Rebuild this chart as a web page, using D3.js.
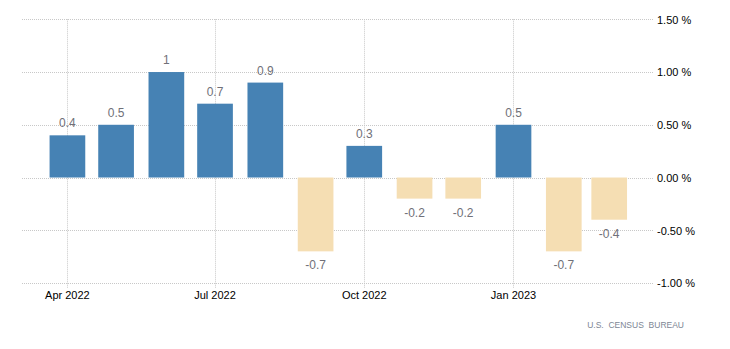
<!DOCTYPE html>
<html>
<head>
<meta charset="utf-8">
<script src="https://cdn.jsdelivr.net/npm/d3@7"></script>
<style>
  html, body { margin: 0; padding: 0; background: #fff; }
  svg { display: block; font-family: "Liberation Sans", Arial, sans-serif; }
</style>
</head>
<body>
<svg id="chart" width="730" height="349"></svg>
<script>
// Monthly change, %
const months = ["2022-04", "2022-05", "2022-06", "2022-07", "2022-08", "2022-09",
                "2022-10", "2022-11", "2022-12", "2023-01", "2023-02", "2023-03"];
const values = [0.4, 0.5, 1, 0.7, 0.9, -0.7, 0.3, -0.2, -0.2, 0.5, -0.7, -0.4];
const yTicks = [1.5, 1.0, 0.5, 0, -0.5, -1.0];
const xTickMonths = ["2022-04", "2022-07", "2022-10", "2023-01"];
const source = "U.S.  CENSUS  BUREAU";

const parseMonth = d3.timeParse("%Y-%m");
const data = months.map((m, i) => ({ date: parseMonth(m), value: values[i] }));

// plain hyphen for negatives, like the original
const fmtTick = d3.formatLocale({ decimal: ".", thousands: ",", grouping: [3], currency: ["", ""], minus: "-" }).format(".2f");

const svg = d3.select("#chart");
const plot = { left: 22, right: 653, top: 19.3, bottom: 283 };

const x = d3.scaleTime()
  .domain([d3.timeDay.offset(data[0].date, -28), d3.timeDay.offset(data[data.length - 1].date, 27)])
  .range([plot.left, plot.right]);

const y = d3.scaleLinear()
  .domain([-1, 1.5])
  .range([plot.bottom, plot.top]);

const gridColor = "#c8c8c8";

// horizontal grid
svg.append("g")
  .selectAll("line")
  .data(yTicks)
  .join("line")
    .attr("x1", plot.left)
    .attr("x2", plot.right + 1)
    .attr("y1", d => Math.round(y(d)) + 0.5)
    .attr("y2", d => Math.round(y(d)) + 0.5)
    .attr("stroke", gridColor)
    .attr("stroke-dasharray", "1 1");

// vertical grid
const xTicks = xTickMonths.map(parseMonth);
svg.append("g")
  .selectAll("line")
  .data(xTicks)
  .join("line")
    .attr("x1", d => Math.round(x(d)) + 0.5)
    .attr("x2", d => Math.round(x(d)) + 0.5)
    .attr("y1", plot.top)
    .attr("y2", plot.bottom + 5)
    .attr("stroke", gridColor)
    .attr("stroke-dasharray", "1 1");

// bars
const halfWidth = d => (x(d3.timeDay.offset(d, 11)) - x(d3.timeDay.offset(d, -11))) / 2;
svg.append("g")
  .selectAll("rect")
  .data(data)
  .join("rect")
    .attr("x", d => x(d.date) - halfWidth(d.date))
    .attr("width", d => 2 * halfWidth(d.date))
    .attr("y", d => y(Math.max(0, d.value)))
    .attr("height", d => Math.abs(y(d.value) - y(0)))
    .attr("fill", d => d.value >= 0 ? "#4682b4" : "#f5deb3");

// value labels
svg.append("g")
  .attr("font-size", 12)
  .attr("fill", "#707078")
  .attr("text-anchor", "middle")
  .selectAll("text")
  .data(data)
  .join("text")
    .attr("x", d => x(d.date))
    .attr("y", d => d.value >= 0 ? y(d.value) - 8 : y(d.value) + 18)
    .text(d => String(d.value));

// right axis labels
svg.append("g")
  .attr("font-size", 11)
  .attr("fill", "#000")
  .selectAll("text")
  .data(yTicks)
  .join("text")
    .attr("x", plot.right + 4)
    .attr("y", d => y(d))
    .attr("dy", "0.4em")
    .text(d => fmtTick(d) + " %");

// x axis labels
svg.append("g")
  .attr("font-size", 11)
  .attr("fill", "#000")
  .attr("text-anchor", "middle")
  .selectAll("text")
  .data(xTicks)
  .join("text")
    .attr("x", d => x(d))
    .attr("y", 298.5)
    .text(d => d3.timeFormat("%b %Y")(d));

// source
svg.append("text")
  .attr("x", 684)
  .attr("y", 328)
  .attr("text-anchor", "end")
  .attr("font-size", 8.5)
  .attr("fill", "#7d8694")
  .style("white-space", "pre")
  .text(source);
</script>
</body>
</html>
